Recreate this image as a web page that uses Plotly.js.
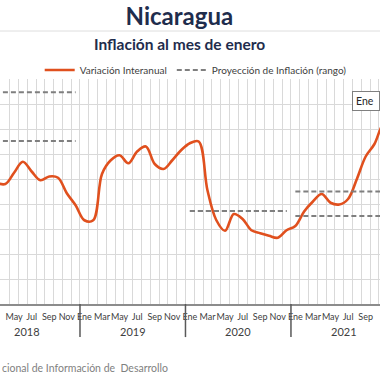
<!DOCTYPE html>
<html><head><meta charset="utf-8">
<script src="https://cdn.plot.ly/plotly-3.0.1.min.js"></script>
<style>html,body{margin:0;padding:0;background:#fff;}#chart{width:380px;height:380px;}</style>
</head><body><div id="chart"></div>
<script>
// Months of each year (category labels)
const months = ['Ene','Feb','Mar','Abr','May','Jun','Jul','Ago','Sep','Oct','Nov','Dic'];
const years = ['2018','2019','2020','2021','2022'];
// Variación interanual, Ene 2018 .. Ene 2022 (%)
const interanual = [5.5, 5.1, 4.85, 4.8, 5.25, 5.69, 5.3, 4.95, 5.1, 5.05, 4.43, 3.95,
                    3.35, 3.35, 5.2, 5.75, 5.95, 5.63, 6.1, 6.3, 5.6, 5.4, 5.75, 6.15,
                    6.43, 6.5, 4.55, 3.36, 2.93, 3.6, 3.4, 2.95, 2.83, 2.73, 2.65, 2.95,
                    3.12, 3.7, 4.1, 4.4, 4.05, 3.98, 4.2, 5.0, 5.9, 6.4, 7.2, 7.4, 7.6];
// Proyección de inflación (rango) per year: high, low
const projYear = ['2018','2020','2021'];
const projHigh = [8.47, 3.72, 4.5];
const projLow  = [6.52, 3.72, 3.52];
const footText = 'cional de Información de&nbsp;&nbsp;Desarrollo';
const lastLabel = 'Ene';

const nM = interanual.length;
const xIdx = interanual.map((v,i)=>i);
const px = [], py = [];
projYear.forEach((yr,k)=>{
  const s = years.indexOf(yr)*12, e = s+11;
  px.push(s,e,null,s,e,null); py.push(projHigh[k],projHigh[k],null,projLow[k],projLow[k],null);
});
const tickvals = [], ticktext = [], minorVals = [];
for(let i=0;i<nM;i++){ minorVals.push(i-0.5); if(i%2===0){tickvals.push(i); ticktext.push(months[i%12]);} }
minorVals.push(nM-0.5);

const FONT = 'Lato, "DejaVu Sans", sans-serif';
const traces = [
  {x:xIdx, y:interanual, type:'scatter', mode:'lines', name:'Variación Interanual',
   line:{color:'#e0501e', width:2.6, shape:'spline'}},
  {x:px, y:py, type:'scatter', mode:'lines', name:'Proyección de Inflación (rango)',
   line:{color:'#7f7f7f', width:2, dash:'5px,3px'}, connectgaps:false}
];
const annotations = [];
years.forEach((y,i)=>{
  annotations.push({x:i*12+5.5, y:-0.124, xref:'x', yref:'paper', yanchor:'middle', text:y, showarrow:false,
    font:{family:FONT, size:11, color:'#404040'}});
});
annotations.push({x:1, y:0.9036, xref:'paper', yref:'paper', xanchor:'right', yanchor:'middle',
  text:lastLabel+'&nbsp;', showarrow:false, bgcolor:'#fff', bordercolor:'#7f7f7f', borderwidth:1, borderpad:3,
  font:{family:FONT, size:10.5, color:'#262626'}});
annotations.push({x:0, y:-0.284, xref:'paper', yref:'paper', xanchor:'left', yanchor:'middle',
  text:footText, showarrow:false, font:{family:FONT, size:10.5, color:'#7f7f7f'}});
annotations.push({x:0.472, y:1.1556, xref:'paper', yref:'paper', xanchor:'center', yanchor:'middle',
  text:'<b>Inflación al mes de enero</b>', showarrow:false, font:{family:FONT, size:15.5, color:'#1f2d4d'}});

const shapes = [{type:'line', xref:'paper', yref:'paper', x0:0, x1:1, y0:1.2133, y1:1.2133,
  line:{color:'#dedede', width:1}}];
for(let i=1;i<years.length;i++){
  shapes.push({type:'line', xref:'x', yref:'paper', x0:i*12-0.5, x1:i*12-0.5, y0:0, y1:-0.147,
    line:{color:'#595959', width:1.5}});
}

const layout = {
  width:380, height:380, margin:{l:0, r:0, t:79, b:76},
  paper_bgcolor:'#fff', plot_bgcolor:'#fff',
  font:{family:FONT, color:'#404040'},
  title:{text:'<b>Nicaragua</b>', x:0.472, xanchor:'center', y:0.956, yanchor:'middle',
    font:{family:FONT, size:24, color:'#1f2d4d'}},
  showlegend:true,
  legend:{orientation:'h', x:0.515, xanchor:'center', y:1.04, yanchor:'middle', itemwidth:30,
    font:{family:FONT, size:10, color:'#404040'}, bgcolor:'rgba(0,0,0,0)'},
  xaxis:{range:[2.40, 45.63], tickmode:'array', tickvals:tickvals, ticktext:ticktext, tickangle:0,
    showgrid:false, zeroline:false, showline:true, linecolor:'#8c8c8c', linewidth:1.5,
    ticks:'', ticklabelstandoff:4, tickfont:{family:FONT, size:9, color:'#404040'},
    minor:{tickmode:'array', tickvals:minorVals, showgrid:true, gridcolor:'#d9d9d9', gridwidth:1, ticks:''},
    fixedrange:true},
  yaxis:{range:[0,9], dtick:1, showticklabels:false, gridcolor:'#d9d9d9', zeroline:false,
    showline:false, fixedrange:true},
  annotations:annotations, shapes:shapes
};
Plotly.newPlot('chart', traces, layout, {displayModeBar:false, staticPlot:true});
</script></body></html>
